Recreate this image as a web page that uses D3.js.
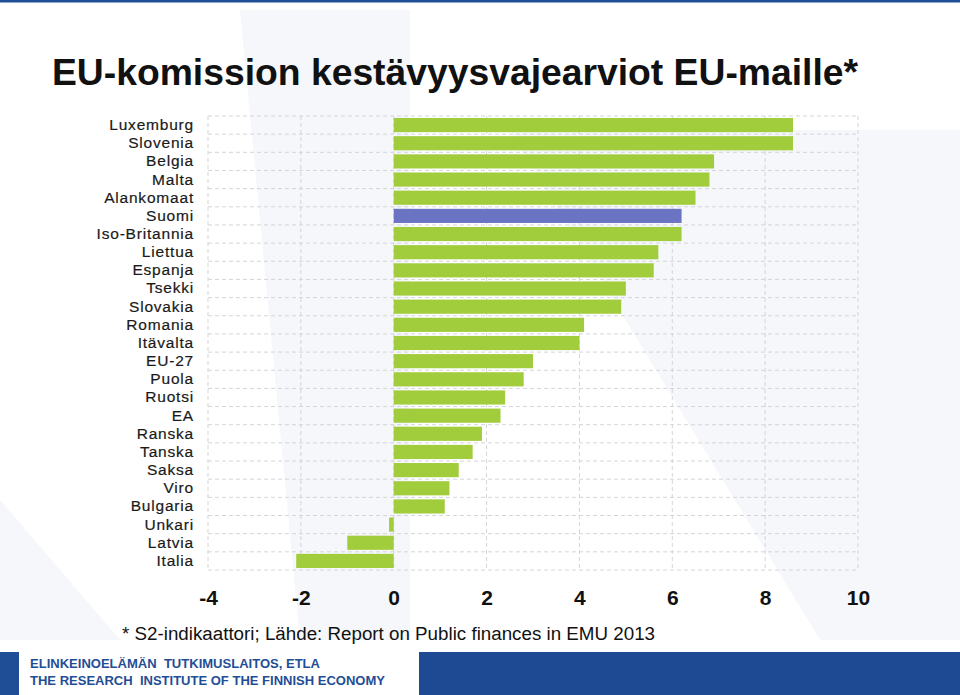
<!DOCTYPE html>
<html><head><meta charset="utf-8">
<script src="https://cdn.jsdelivr.net/npm/d3@7"></script>
<style>body{margin:0;background:#fff}svg{display:block}</style>
</head><body>
<svg id="c" width="960" height="695"></svg>
<script>
const categories = ["Luxemburg","Slovenia","Belgia","Malta","Alankomaat","Suomi","Iso-Britannia","Liettua","Espanja","Tsekki","Slovakia","Romania","Itävalta","EU-27","Puola","Ruotsi","EA","Ranska","Tanska","Saksa","Viro","Bulgaria","Unkari","Latvia","Italia"];
const values = [8.6,8.6,6.9,6.8,6.5,6.2,6.2,5.7,5.6,5.0,4.9,4.1,4.0,3.0,2.8,2.4,2.3,1.9,1.7,1.4,1.2,1.1,-0.1,-1.0,-2.1];
const highlight = ["Suomi"];
const tickValues = [-4,-2,0,2,4,6,8,10];

(function(){
const svg = d3.select("#c");
const W=960,H=695;
const pL=208,pR=858,pT=116,pB=570;

svg.append("polygon").attr("points","240,10 410,10 410,640 300,640").attr("fill","#f5f7fb");
svg.append("polygon").attr("points","510,130 960,130 960,640 820,640").attr("fill","#f5f7fb");
svg.append("polygon").attr("points","0,500 120,640 0,640").attr("fill","#f5f7fb");

svg.append("rect").attr("x",0).attr("y",0).attr("width",W).attr("height",2.5).attr("fill","#1f4e96");

const x = d3.scaleLinear().domain([-4,10]).range([pL,pR]);
const y = d3.scaleBand().domain(categories).range([pT,pB]).paddingInner(0.22).paddingOuter(0.11);

const g = svg.append("g");
const step = (pB-pT)/categories.length;
const rowEdges = d3.range(categories.length+1).map(i=>pT+i*step);
g.selectAll("line.h").data(rowEdges).join("line")
  .attr("x1",pL).attr("x2",pR).attr("y1",d=>d).attr("y2",d=>d)
  .attr("stroke","#d3d5d9").attr("stroke-width",1).attr("stroke-dasharray","4,3");
g.selectAll("line.v").data(tickValues).join("line")
  .attr("x1",d=>x(d)).attr("x2",d=>x(d)).attr("y1",pT).attr("y2",pB)
  .attr("stroke","#d3d5d9").attr("stroke-width",1).attr("stroke-dasharray","4,3");

g.selectAll("rect.bar").data(categories).join("rect")
  .attr("x",(d,i)=>x(Math.min(0,values[i])))
  .attr("width",(d,i)=>Math.abs(x(values[i])-x(0)))
  .attr("y",d=>y(d)).attr("height",y.bandwidth())
  .attr("fill",d=>highlight.includes(d)?"#6b74c2":"#a1cd3c");

const yAxis = d3.axisLeft(y).tickSize(0).tickPadding(0);
const ya = svg.append("g").attr("transform","translate(194,0)").call(yAxis);
ya.select(".domain").remove();
ya.selectAll("text").attr("font-family","Liberation Sans, Arial, sans-serif").attr("font-size",15.5)
  .attr("fill","#1a1a1a").attr("stroke","#1a1a1a").attr("stroke-width",0.2).attr("letter-spacing","0.8px");

const xAxis = d3.axisBottom(x).tickValues(tickValues).tickSize(0).tickPadding(0).tickFormat(d3.format("d"));
const xa = svg.append("g").attr("transform","translate(0,590)").call(xAxis);
xa.select(".domain").remove();
xa.selectAll("text").attr("font-family","Liberation Sans, Arial, sans-serif").attr("font-size",21).attr("font-weight","bold").attr("fill","#111").attr("dy","0.71em").text(d=>d<0?"-"+Math.abs(d):d);

svg.append("text").attr("x",52).attr("y",85).attr("font-family","Liberation Sans, Arial, sans-serif")
  .attr("font-size",37).attr("font-weight","bold").attr("fill","#111")
  .attr("textLength",806).attr("lengthAdjust","spacingAndGlyphs")
  .text("EU-komission kestävyysvajearviot EU-maille*");

svg.append("text").attr("x",122).attr("y",640).attr("font-family","Liberation Sans, Arial, sans-serif")
  .attr("font-size",18).attr("fill","#111")
  .attr("textLength",533).attr("lengthAdjust","spacingAndGlyphs")
  .text("* S2-indikaattori; Lähde: Report on Public finances in EMU 2013");

svg.append("rect").attr("x",0).attr("y",652).attr("width",19).attr("height",43).attr("fill","#1f4e96");
svg.append("rect").attr("x",419).attr("y",652).attr("width",541).attr("height",43).attr("fill","#1d4a93");
svg.append("text").attr("x",30).attr("y",668).attr("font-family","Liberation Sans, Arial, sans-serif")
  .attr("font-size",12.5).attr("font-weight","bold").attr("fill","#1f4e96").style("white-space","pre")
  .attr("textLength",290).attr("lengthAdjust","spacingAndGlyphs")
  .text("ELINKEINOELÄMÄN  TUTKIMUSLAITOS, ETLA");
svg.append("text").attr("x",30).attr("y",685).attr("font-family","Liberation Sans, Arial, sans-serif")
  .attr("font-size",12.5).attr("font-weight","bold").attr("fill","#1f4e96").style("white-space","pre")
  .attr("textLength",355).attr("lengthAdjust","spacingAndGlyphs")
  .text("THE RESEARCH  INSTITUTE OF THE FINNISH ECONOMY");
})();
</script>
</body></html>
